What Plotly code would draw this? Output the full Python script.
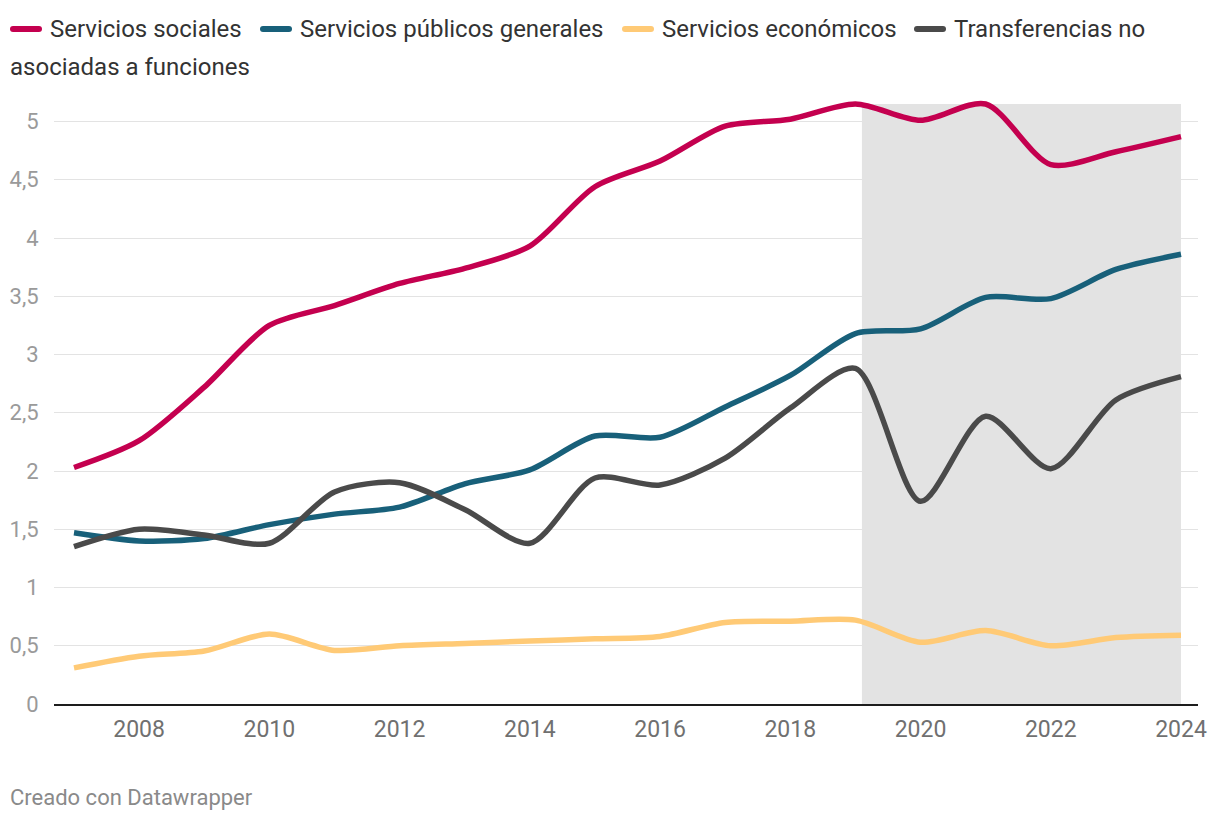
import plotly.graph_objects as go

years = list(range(2007, 2025))

servicios_sociales = [2.03, 2.26, 2.72, 3.25, 3.42, 3.61, 3.74, 3.93, 4.44, 4.66,
                      4.96, 5.02, 5.15, 5.01, 5.15, 4.63, 4.74, 4.87]
servicios_publicos = [1.47, 1.40, 1.42, 1.54, 1.63, 1.69, 1.89, 2.01, 2.30, 2.29,
                      2.55, 2.82, 3.18, 3.22, 3.49, 3.48, 3.73, 3.86]
servicios_economicos = [0.31, 0.41, 0.455, 0.60, 0.46, 0.50, 0.52, 0.54, 0.56, 0.58,
                        0.70, 0.71, 0.72, 0.53, 0.63, 0.50, 0.57, 0.59]
transferencias = [1.35, 1.50, 1.45, 1.38, 1.82, 1.90, 1.67, 1.38, 1.94, 1.88,
                  2.11, 2.54, 2.88, 1.74, 2.47, 2.02, 2.61, 2.81]

series_names = ["Servicios sociales", "Servicios públicos generales",
                "Servicios económicos", "Transferencias no asociadas a funciones"]
series_values = [servicios_sociales, servicios_publicos, servicios_economicos, transferencias]
colors = ["#c4004f", "#18607a", "#ffca76", "#4a4a4a"]

x_ticks = [2008, 2010, 2012, 2014, 2016, 2018, 2020, 2022, 2024]
y_ticks = [0, 0.5, 1, 1.5, 2, 2.5, 3, 3.5, 4, 4.5, 5]
y_tick_labels = ["0", "0,5", "1", "1,5", "2", "2,5", "3", "3,5", "4", "4,5", "5"]

shade_start, shade_end, shade_top = 2019.1, 2024, 5.15

FONT = "Roboto"
W, H = 1220, 820
ML, MR, MT, MB = 54, 22, 95, 116

fig = go.Figure()
for name, vals, col in zip(series_names, series_values, colors):
    fig.add_trace(go.Scatter(
        x=years, y=vals, mode="lines", name=name,
        line=dict(color=col, width=5.5, shape="spline", smoothing=0.8),
        showlegend=False, hoverinfo="skip",
    ))

fig.add_shape(type="rect", xref="x", yref="y", x0=shade_start, x1=shade_end,
              y0=0, y1=shade_top, fillcolor="#e3e3e3", line=dict(width=0),
              layer="between")

# custom legend (pixel positions converted to paper coords)
pw = W - ML - MR
ph = H - MT - MB


def px(xp):
    return (xp - ML) / pw


def py(yp):
    return (H - MB - yp) / ph


legend_items = [
    (10, 42, 48, 29, series_names[0], colors[0]),
    (260, 292, 298, 29, series_names[1], colors[1]),
    (622, 654, 660, 29, series_names[2], colors[2]),
    (914, 946, 952, 29, "Transferencias no", colors[3]),
]
for x0, x1, xt, yc, txt, col in legend_items:
    fig.add_shape(type="line", xref="paper", yref="paper",
                  x0=px(x0 + 3), x1=px(x1 - 3), y0=py(yc), y1=py(yc),
                  line=dict(color=col, width=6))
    fig.add_shape(type="circle", xref="paper", yref="paper",
                  x0=px(x0), x1=px(x0 + 6), y0=py(yc + 3), y1=py(yc - 3),
                  fillcolor=col, line=dict(width=0))
    fig.add_shape(type="circle", xref="paper", yref="paper",
                  x0=px(x1 - 6), x1=px(x1), y0=py(yc + 3), y1=py(yc - 3),
                  fillcolor=col, line=dict(width=0))
    fig.add_annotation(xref="paper", yref="paper", x=px(xt), y=py(yc),
                       text=txt, showarrow=False, xanchor="left", yanchor="middle",
                       font=dict(family=FONT, size=24, color="#333333"))
fig.add_annotation(xref="paper", yref="paper", x=px(8), y=py(67),
                   text="asociadas a funciones", showarrow=False,
                   xanchor="left", yanchor="middle",
                   font=dict(family=FONT, size=24, color="#333333"))

fig.add_annotation(xref="paper", yref="paper", x=px(8), y=py(797),
                   text="Creado con Datawrapper", showarrow=False,
                   xanchor="left", yanchor="middle",
                   font=dict(family=FONT, size=22, color="#8a8a8a"))

fig.update_layout(
    width=W, height=H,
    margin=dict(l=ML, r=MR, t=MT, b=MB, autoexpand=False),
    paper_bgcolor="white", plot_bgcolor="white",
    font=dict(family=FONT),
    xaxis=dict(
        range=[2007 - 20 / 65.12, 2024 + 17 / 65.12],
        tickvals=x_ticks, ticktext=[str(v) for v in x_ticks],
        showgrid=False, zeroline=False, automargin=False,
        showline=True, linecolor="#1d1d1d", linewidth=2,
        ticks="outside", ticklen=3, tickcolor="rgba(0,0,0,0)",
        tickfont=dict(family=FONT, size=23, color="#707070"),
    ),
    yaxis=dict(
        range=[0, (H - MB - MT) / 116.5],
        tickvals=y_ticks, ticktext=y_tick_labels,
        showgrid=True, gridcolor="#e3e3e3", gridwidth=1,
        zeroline=False, showline=False, automargin=False,
        ticks="outside", ticklen=10, tickcolor="rgba(0,0,0,0)",
        tickfont=dict(family=FONT, size=22, color="#9a9a9a"),
    ),
)

fig.write_html("out.html", config={"displayModeBar": False, "staticPlot": True},
               post_script="document.body.style.margin='0px';document.body.style.overflow='hidden';")
